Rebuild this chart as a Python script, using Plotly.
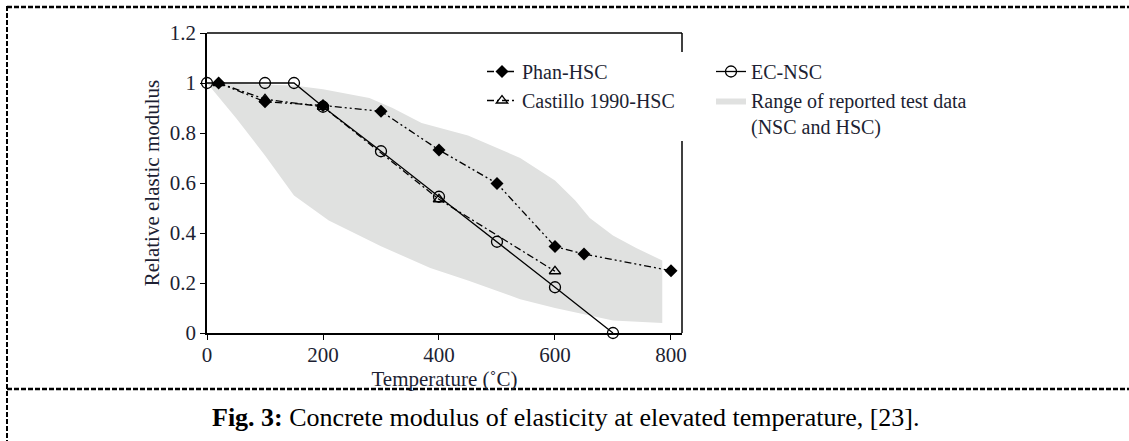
import plotly.graph_objects as go

# ---- data ----
ec_x = [0, 100, 150, 200, 300, 400, 500, 600, 700]
ec_y = [1.0, 1.0, 1.0, 0.905, 0.727, 0.545, 0.365, 0.183, 0.0]

phan_x = [20, 100, 200, 300, 400, 500, 600, 650, 800]
phan_y = [1.0, 0.925, 0.91, 0.887, 0.732, 0.598, 0.346, 0.316, 0.249]

cast_x = [20, 100, 200, 400, 600]
cast_y = [1.0, 0.935, 0.905, 0.535, 0.247]

range_upper_x = [0, 150, 200, 280, 320, 370, 450, 540, 600, 635, 660, 700, 740, 785]
range_upper_y = [1.0, 0.99, 0.975, 0.94, 0.9, 0.84, 0.79, 0.70, 0.61, 0.53, 0.46, 0.39, 0.34, 0.29]
range_lower_x = [0, 50, 100, 150, 210, 300, 385, 450, 540, 600, 700, 785]
range_lower_y = [1.0, 0.86, 0.71, 0.55, 0.45, 0.347, 0.26, 0.21, 0.135, 0.1, 0.05, 0.04]

x_ticks = [0, 200, 400, 600, 800]
y_ticks = [0, 0.2, 0.4, 0.6, 0.8, 1.0, 1.2]
y_tick_text = ["0", "0.2", "0.4", "0.6", "0.8", "1", "1.2"]

FONT = "Liberation Serif"
TXT = "#1d1f33"

fig = go.Figure()

poly_x = range_upper_x + range_lower_x[::-1]
poly_y = range_upper_y + range_lower_y[::-1]
fig.add_trace(go.Scatter(
    x=poly_x, y=poly_y, fill="toself", mode="lines",
    fillcolor="#e0e1e0", line=dict(width=0, color="#e0e1e0"),
    name="Range of reported test data<br>(NSC and HSC)", legend="legend2",
    legendrank=2, hoverinfo="skip"))

fig.add_trace(go.Scatter(
    x=cast_x, y=cast_y, mode="lines+markers", name="Castillo 1990-HSC",
    line=dict(color="black", width=1.3, dash="7px,3px,2px,3px"),
    marker=dict(symbol="triangle-up-open", size=10, color="black", line=dict(width=1.3)),
    cliponaxis=False, legend="legend", legendrank=2))

fig.add_trace(go.Scatter(
    x=phan_x, y=phan_y, mode="lines+markers", name="Phan-HSC",
    line=dict(color="black", width=1.3, dash="7px,3px,2px,3px,2px,3px"),
    marker=dict(symbol="diamond", size=10, color="black"),
    cliponaxis=False, legend="legend", legendrank=1))

fig.add_trace(go.Scatter(
    x=ec_x, y=ec_y, mode="lines+markers", name="EC-NSC",
    line=dict(color="black", width=1.3),
    marker=dict(symbol="circle-open", size=11, color="black", line=dict(width=1.3)),
    cliponaxis=False, legend="legend2", legendrank=1))

W, H = 1129, 441
L, R, T, B = 207, 682, 33, 333


def px(xp):
    return (xp - L) / (R - L)


def py(yp):
    return (B - yp) / (B - T)


shapes = []
shapes.append(dict(type="line", xref="paper", yref="paper", x0=0, x1=1, y0=1, y1=1,
                   line=dict(color="black", width=1.5)))
shapes.append(dict(type="line", xref="paper", yref="paper", x0=1, x1=1, y0=py(52), y1=1,
                   line=dict(color="black", width=1.5)))
shapes.append(dict(type="line", xref="paper", yref="paper", x0=1, x1=1, y0=0, y1=py(141),
                   line=dict(color="black", width=1.5)))
dash = "5px,2px"
shapes.append(dict(type="line", xref="paper", yref="paper", x0=px(7), x1=px(1140), y0=py(7), y1=py(7),
                   line=dict(color="black", width=2.5, dash=dash)))
shapes.append(dict(type="line", xref="paper", yref="paper", x0=px(7), x1=px(7), y0=py(6), y1=py(450),
                   line=dict(color="black", width=2, dash=dash)))
shapes.append(dict(type="line", xref="paper", yref="paper", x0=px(7), x1=px(1140), y0=py(389), y1=py(389),
                   line=dict(color="black", width=2.5, dash=dash)))

fig.update_layout(
    width=W, height=H,
    margin=dict(l=L, r=W - R, t=T, b=H - B, autoexpand=False),
    paper_bgcolor="white", plot_bgcolor="white",
    font=dict(family=FONT, color=TXT, size=20),
    shapes=shapes,
    legend=dict(x=px(482), y=py(52), xanchor="left", yanchor="top",
                bgcolor="rgba(0,0,0,0)", font=dict(size=20, family=FONT, color=TXT),
                tracegroupgap=0, itemwidth=30, traceorder="normal"),
    legend2=dict(x=px(711), y=py(52), xanchor="left", yanchor="top",
                 bgcolor="rgba(0,0,0,0)", font=dict(size=20, family=FONT, color=TXT),
                 tracegroupgap=0, itemwidth=30, traceorder="normal", valign="top"),
    xaxis=dict(range=[0, 819], tickvals=x_ticks, showgrid=False, zeroline=False,
               showline=True, linecolor="black", linewidth=1.5,
               ticks="outside", ticklen=5, tickcolor="black", tickwidth=1,
               ticklabelstandoff=-3,
               tickfont=dict(size=21, family=FONT, color=TXT),
               title=dict(text="Temperature (˚C)", standoff=0,
                          font=dict(size=21, family=FONT, color=TXT))),
    yaxis=dict(range=[0, 1.2], tickvals=y_ticks, ticktext=y_tick_text, showgrid=False,
               zeroline=False, showline=True, linecolor="black", linewidth=1.5,
               ticks="outside", ticklen=5, tickcolor="black", tickwidth=1,
               tickfont=dict(size=21, family=FONT, color=TXT),
               title=dict(text="Relative elastic modulus", standoff=4,
                          font=dict(size=21, family=FONT, color=TXT))),
    annotations=[dict(xref="paper", yref="paper", x=px(566), y=py(418),
                      xanchor="center", yanchor="middle", showarrow=False,
                      text="<b>Fig. 3:</b> Concrete modulus of elasticity at elevated temperature, [23].",
                      font=dict(size=26, family=FONT, color="black"))],
    showlegend=True,
)

fig.write_html("out.html", config={"displayModeBar": False},
               post_script="document.body.style.margin='0px';document.body.style.overflow='hidden';")
